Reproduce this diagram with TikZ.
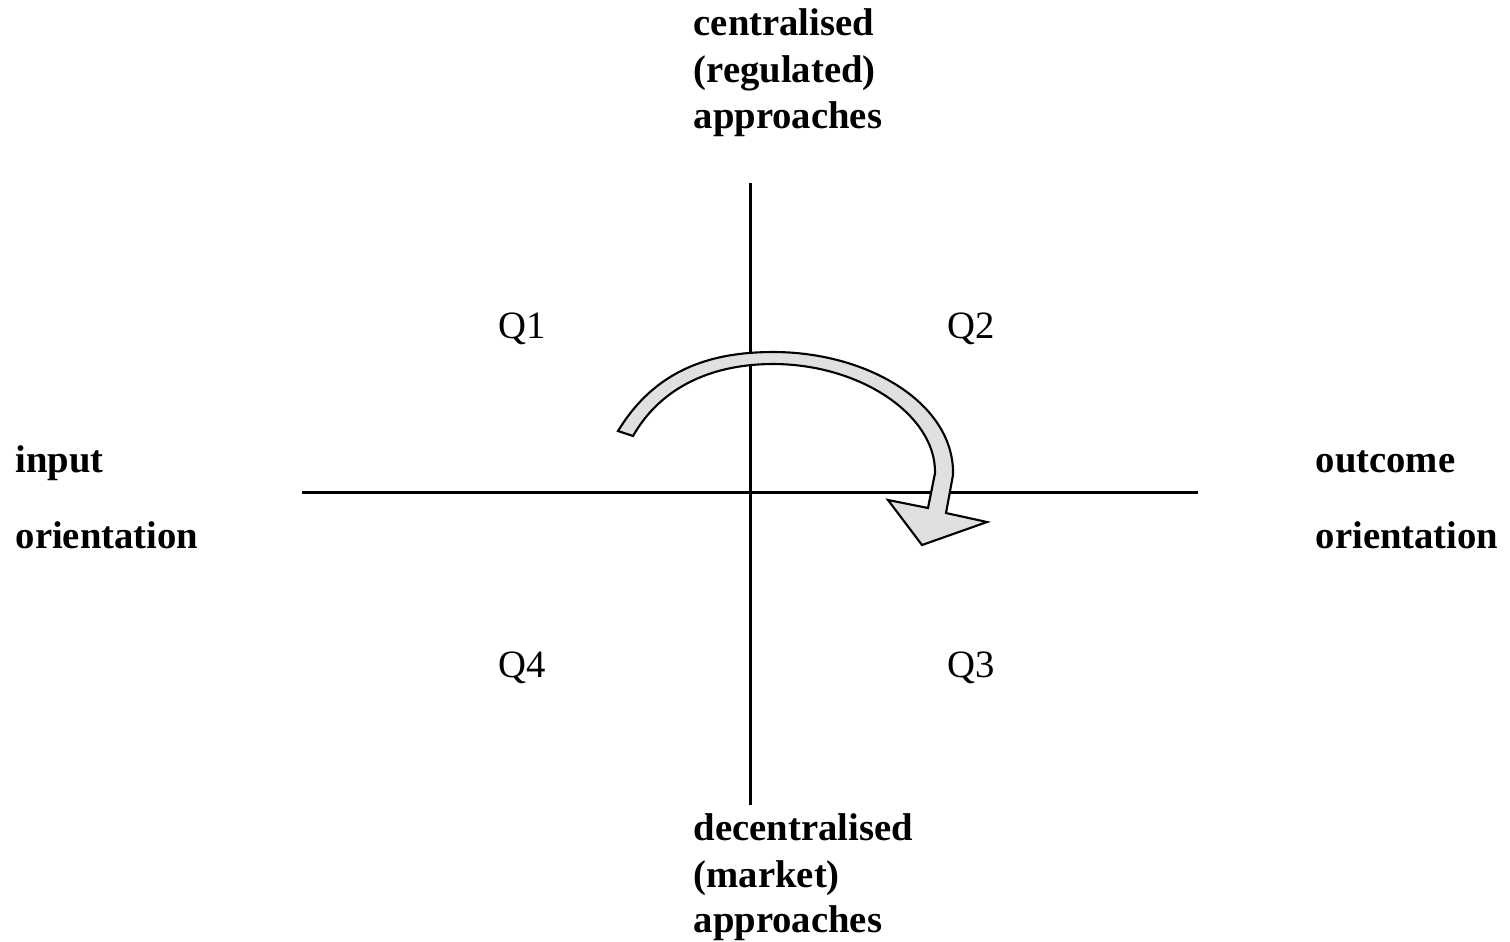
\documentclass[tikz,border=0pt]{standalone}
\usepackage{fontspec}
\setmainfont{Liberation Serif}
\begin{document}
\begin{tikzpicture}[x=0.01cm,y=-0.01cm,
  lab/.style={anchor=base west,inner sep=0pt,font=\fontsize{11pt}{13.4pt}\selectfont\bfseries},
  qlab/.style={anchor=base west,inner sep=0pt,font=\fontsize{11pt}{13.4pt}\selectfont},
  axis/.style={line width=0.85pt},
  bigarrow/.style={fill=black!12,draw=black,line width=0.6pt,line join=miter}]
\useasboundingbox (0,0) rectangle (1510,941);
% axes
\coordinate (left) at (302,492);
\coordinate (right) at (1198,492);
\coordinate (top) at (750,183);
\coordinate (bottom) at (750,805);
\draw[axis] (left) -- (right);
\draw[axis] (top) -- (bottom);
% labels
\node[lab] (c1) at (693,35) {centralised};
\node[lab] (c2) at (693,82) {(regulated)};
\node[lab] (c3) at (693,128) {approaches};
\node[lab] (d1) at (693,840) {decentralised};
\node[lab] (d2) at (693,887) {(market)};
\node[lab] (d3) at (693,932) {approaches};
\node[lab] (i1) at (15,472) {input};
\node[lab] (i2) at (15,548) {orientation};
\node[lab] (o1) at (1315,472) {outcome};
\node[lab] (o2) at (1315,548) {orientation};
\node[qlab] (q1) at (498,338) {Q1};
\node[qlab] (q2) at (947,338) {Q2};
\node[qlab] (q3) at (947,677) {Q3};
\node[qlab] (q4) at (498,677) {Q4};
% curved arrow
\draw[bigarrow] (618,431) .. controls (655,370) and (710,352) .. (773,352)
  .. controls (870,352) and (955,405) .. (953,475)
  -- (946,513) -- (987,522) -- (922,545) -- (888,500) -- (928,508)
  -- (935,473)
  .. controls (936,415) and (860,364) .. (773,364)
  .. controls (715,364) and (662,385) .. (633,436) -- cycle;
\end{tikzpicture}
\end{document}
